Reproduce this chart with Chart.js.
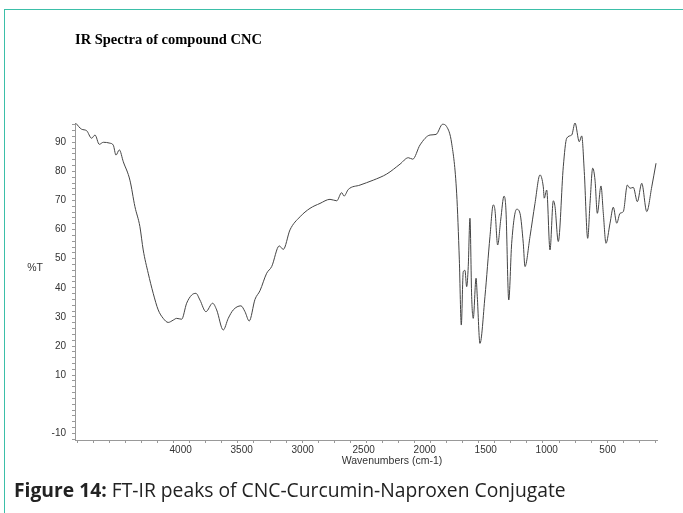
<!DOCTYPE html>
<html><head><meta charset="utf-8">
<script src="https://cdn.jsdelivr.net/npm/chart.js@4.4.1/dist/chart.umd.min.js"></script>
<style>
html,body{margin:0;padding:0;background:#fff;}
#wrap{position:relative;width:683px;height:513px;overflow:hidden;}
#frame{position:absolute;left:4px;top:9px;width:700px;height:600px;border-left:1.5px solid #3bbfa8;border-top:1.5px solid #3bbfa8;}
canvas{position:absolute;left:0;top:0;}
#cap{position:absolute;left:14px;top:476px;font-family:'Open Sans';font-size:19.3px;color:#222;white-space:nowrap;}
</style></head><body>
<div id="wrap"><div id="frame"></div><canvas id="c" width="683" height="513"></canvas><div id="cap"><b>Figure 14:</b> FT-IR peaks of CNC-Curcumin-Naproxen Conjugate</div></div>
<script>
const chartTitle = 'IR Spectra of compound CNC';
const xTitle = 'Wavenumbers (cm-1)';
const yTitle = '%T';
const wavenumbers = [4858,4812,4771,4730,4702,4667,4634,4580,4552,4530,
4503,4470,4416,4375,4334,4307,4266,4225,4184,4143,
4102,4061,4033,3992,3951,3910,3875,3842,3793,3738,
3705,3651,3610,3569,3506,3473,3438,3391,3350,3295,
3254,3192,3159,3104,3022,2940,2858,2776,2721,2680,
2661,2626,2530,2421,2311,2202,2134,2098,2038,1956,
1907,1853,1820,1779,1738,1716,1700,1684,1670,1656,
1643,1629,1615,1602,1579,1569,1547,1506,1465,1438,
1424,1402,1377,1350,1334,1311,1287,1246,1219,1192,
1178,1137,1096,1055,1028,1020,1000,973,946,932,
905,864,836,795,768,733,713,692,664,645,
623,604,585,555,536,514,481,454,426,399,
372,339,317,290,257,221,180,139,104];
const transmittance = [96.5,94.5,94,91.4,92.5,89.3,90,89.7,89,85.6,
87.4,83.3,77,67.9,61,53,45,38.1,32.4,29.5,
28.1,28.9,29.5,29.2,34.7,37.5,38.1,35.8,31.8,34.7,
32.4,25.5,29.5,32.4,33.8,31.8,28.6,36,39,45,
47.3,54.4,53.2,59.9,64.4,67.3,69,70.4,69.9,72.7,
71.5,73.8,75.3,77,79.1,82.5,84.7,84.2,89.1,92.5,
92.7,96.2,95.4,89.7,72.5,49.6,27.2,45.5,46,40.4,
47.3,63.9,37,29.5,43.3,37,20.9,37,57.6,68.5,
66.7,54.7,63.3,71.5,66.7,35.8,55.3,67,65.6,55.3,
47.3,57.6,69,78.8,74.7,70.8,73.6,53,69.9,67.9,
55.9,81.6,91.4,92.5,96.7,90.2,92.2,79.9,57,69,
81.1,77,65.6,75,65.6,55.3,62.2,67.7,62.2,65.6,
66.2,75.3,74.2,74.5,69.6,75.9,66.2,74.7,82.8];
const xTickLabels = [4000,3500,3000,2500,2000,1500,1000,500];
const yTickLabels = [90,80,70,60,50,40,30,20,10,-10];

const X_MIN = 96, X_MAX = 4866, Y_MIN = -12.3, Y_MAX = 96.63;
const tickFont = {family:'Liberation Sans', size:10};

const textPlugin = {
  id:'texts',
  afterDraw(chart){
    const ctx = chart.ctx;
    ctx.save();
    ctx.fillStyle = '#000';
    ctx.font = 'bold 14.5px "Liberation Serif"';
    ctx.textAlign = 'left';
    ctx.textBaseline = 'middle';
    ctx.fillText(chartTitle, chart.chartArea.left, 40);
    ctx.font = '10.5px "Liberation Sans"';
    ctx.fillStyle = '#333';
    ctx.textAlign = 'center';
    ctx.fillText(yTitle, 35, 268);
    ctx.fillText(xTitle, 392, 461);
    ctx.restore();
  }
};

new Chart(document.getElementById('c'), {
  type:'line',
  data:{datasets:[{
    data: wavenumbers.map((w,i)=>({x:w, y:transmittance[i]})),
    borderColor:'#444', borderWidth:1, pointRadius:0, fill:false,
    cubicInterpolationMode:'monotone', xAxisID:'x', yAxisID:'y'
  }]},
  options:{
    responsive:false, animation:false,
    layout:{padding:{top:123,right:26,left:0,bottom:0}},
    plugins:{legend:{display:false}, tooltip:{enabled:false}, title:{display:false}},
    scales:{
      x:{type:'linear', reverse:true, min:X_MIN, max:X_MAX, position:'bottom', weight:0,
        afterBuildTicks(s){ const t=[]; for(let v=4847; v>=X_MIN; v-=131.6) t.push({value:v}); s.ticks=t; },
        ticks:{display:false},
        grid:{drawOnChartArea:false, tickLength:3, color:'#999'},
        border:{color:'#999'},
        afterFit(s){ s.height=3; }
      },
      xl:{type:'linear', reverse:true, min:X_MIN, max:X_MAX, position:'bottom', weight:1,
        afterBuildTicks(s){ s.ticks = xTickLabels.map(v=>({value:v})); },
        ticks:{font:tickFont, color:'#333', padding:1, autoSkip:false, maxRotation:0, callback:v=>String(v)},
        grid:{display:false, drawTicks:false, tickLength:0}, border:{display:false},
        afterFit(s){ s.height=70; }
      },
      y:{type:'linear', min:Y_MIN, max:Y_MAX,
        afterBuildTicks(s){ const t=[]; for(let v=-12; v<=96; v+=2) t.push({value:v}); s.ticks=t; },
        ticks:{autoSkip:false, font:tickFont, color:'#333', padding:6,
          callback:v=>yTickLabels.includes(v)?String(v):''},
        grid:{drawOnChartArea:false, tickLength:3, color:'#999'},
        border:{color:'#999'},
        afterFit(s){ s.width=75; }
      }
    }
  },
  plugins:[textPlugin]
});
</script>
</body></html>
